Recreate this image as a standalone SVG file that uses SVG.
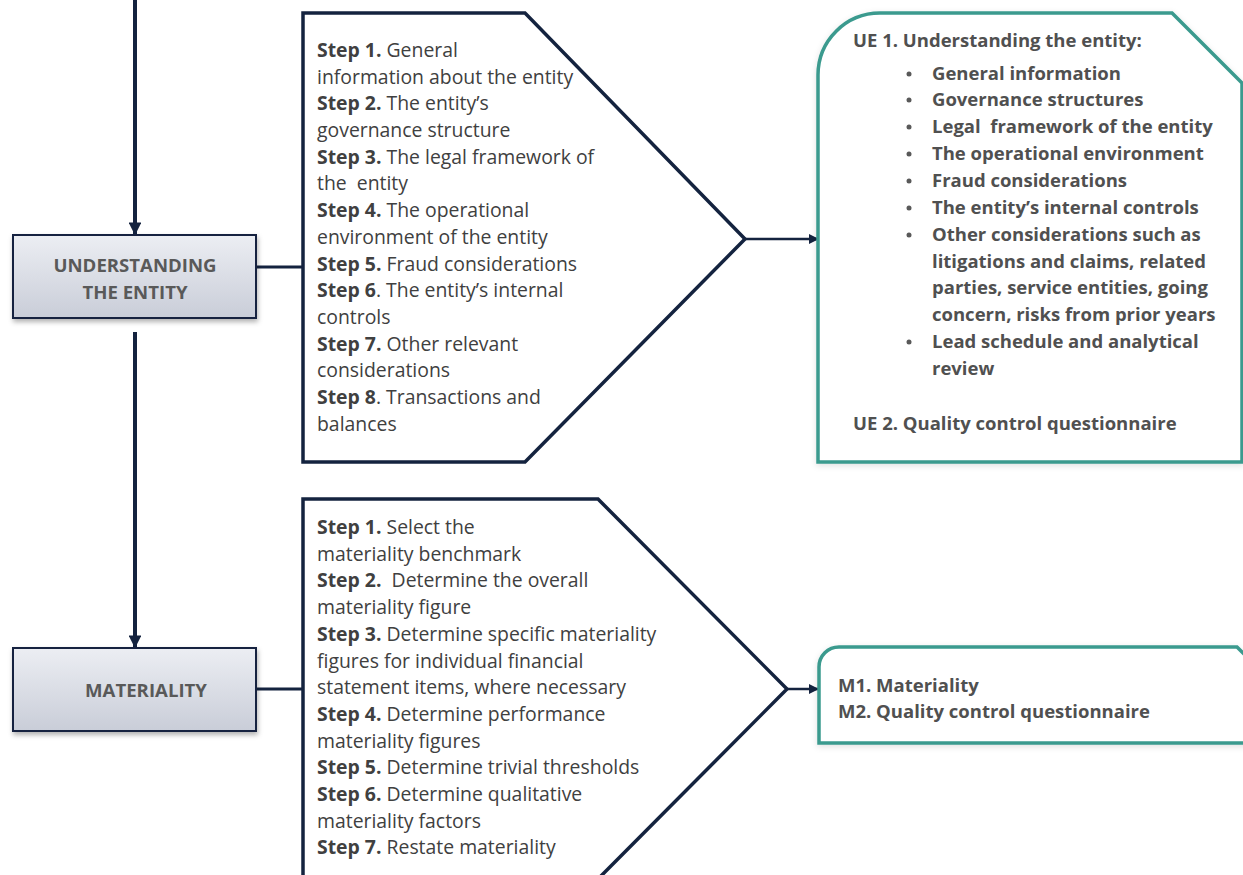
<svg xmlns="http://www.w3.org/2000/svg" width="1243" height="875" viewBox="0 0 1243 875">
<defs>
<linearGradient id="boxg" x1="0" y1="0" x2="0" y2="1">
<stop offset="0" stop-color="#eceef3"/>
<stop offset="1" stop-color="#c9cdd8"/>
</linearGradient>
<filter id="sh" x="-10%" y="-10%" width="130%" height="140%">
<feDropShadow dx="1" dy="3" stdDeviation="2.5" flood-color="#000" flood-opacity="0.3"/>
</filter>
<filter id="sh2" x="-10%" y="-10%" width="130%" height="130%">
<feDropShadow dx="0" dy="2" stdDeviation="3" flood-color="#000" flood-opacity="0.12"/>
</filter>
<marker id="ah" viewBox="0 0 10 10" refX="9" refY="5" markerWidth="3.2" markerHeight="3.2" orient="auto" markerUnits="strokeWidth">
<path d="M0,0 L10,5 L0,10 z" fill="#14233f"/>
</marker>
<marker id="ahs" viewBox="0 0 10 10" refX="9" refY="5" markerWidth="4" markerHeight="4" orient="auto" markerUnits="strokeWidth">
<path d="M0,0 L10,5 L0,10 z" fill="#14233f"/>
</marker>
</defs>
<style>
.box{fill:url(#boxg);stroke:#14233f;stroke-width:2;filter:url(#sh)}
.boxt{font-family:"Open Sans",sans-serif;font-weight:bold;font-size:18.6px;fill:#595959;text-anchor:middle}
.pent{fill:#fff;stroke:#14233f;stroke-width:3.5;stroke-linejoin:miter}
.st{font-family:"Open Sans",sans-serif;font-size:19.4px;fill:#404040}
.st tspan.b{font-weight:bold}
.out{fill:#fff;stroke:#3a9a8e;stroke-width:3.5;filter:url(#sh2)}
.ot{font-family:"Open Sans",sans-serif;font-weight:bold;font-size:18.5px;fill:#505050}
.conn{stroke:#14233f;fill:none}
</style>
<rect width="1243" height="875" fill="#fff"/>
<g id="connectors">
<line class="conn" x1="135" y1="0" x2="135" y2="234" stroke-width="4" marker-end="url(#ah)"/>
<line class="conn" x1="135" y1="332" x2="135" y2="647" stroke-width="4" marker-end="url(#ah)"/>
<line class="conn" x1="256" y1="267" x2="303" y2="267" stroke-width="3"/>
<line class="conn" x1="256" y1="689" x2="303" y2="689" stroke-width="3"/>
<line class="conn" x1="745" y1="239" x2="818" y2="239" stroke-width="2.5" marker-end="url(#ahs)"/>
<line class="conn" x1="787" y1="689" x2="818" y2="689" stroke-width="2.5" marker-end="url(#ahs)"/>
</g>
<g id="node-understanding">
<rect class="box" x="13" y="235" width="243" height="83"/>
<text class="boxt" x="135" y="272">UNDERSTANDING</text>
<text class="boxt" x="135" y="299">THE ENTITY</text>
</g>
<g id="node-materiality">
<rect class="box" x="13" y="648" width="243" height="83"/>
<text class="boxt" x="146" y="697">MATERIALITY</text>
</g>
<g id="node-ue-steps">
<path class="pent" d="M303,13 L525,13 L745,239 L525,462 L303,462 Z"/>
<text class="st" x="317">
<tspan x="317" y="57"><tspan class="b">Step 1.</tspan> General</tspan>
<tspan x="317" y="84">information about the entity</tspan>
<tspan x="317" y="110"><tspan class="b">Step 2.</tspan> The entity’s</tspan>
<tspan x="317" y="137">governance structure</tspan>
<tspan x="317" y="164"><tspan class="b">Step 3.</tspan> The legal framework of</tspan>
<tspan x="317" y="190">the &#160;entity</tspan>
<tspan x="317" y="217"><tspan class="b">Step 4.</tspan> The operational</tspan>
<tspan x="317" y="244">environment of the entity</tspan>
<tspan x="317" y="271"><tspan class="b">Step 5.</tspan> Fraud considerations</tspan>
<tspan x="317" y="297"><tspan class="b">Step 6</tspan>. The entity’s internal</tspan>
<tspan x="317" y="324">controls</tspan>
<tspan x="317" y="351"><tspan class="b">Step 7.</tspan> Other relevant</tspan>
<tspan x="317" y="377">considerations</tspan>
<tspan x="317" y="404"><tspan class="b">Step 8</tspan>. Transactions and</tspan>
<tspan x="317" y="431">balances</tspan>
</text>
</g>
<g id="node-mat-steps">
<path class="pent" d="M303,499 L598,499 L787,689 L598,879 L303,879 Z"/>
<text class="st">
<tspan x="317" y="534"><tspan class="b">Step 1.</tspan> Select the</tspan>
<tspan x="317" y="561">materiality benchmark</tspan>
<tspan x="317" y="587"><tspan class="b">Step 2.</tspan> &#160;Determine the overall</tspan>
<tspan x="317" y="614">materiality figure</tspan>
<tspan x="317" y="641"><tspan class="b">Step 3.</tspan> Determine specific materiality</tspan>
<tspan x="317" y="668">figures for individual financial</tspan>
<tspan x="317" y="694">statement items, where necessary</tspan>
<tspan x="317" y="721"><tspan class="b">Step 4.</tspan> Determine performance</tspan>
<tspan x="317" y="748">materiality figures</tspan>
<tspan x="317" y="774"><tspan class="b">Step 5.</tspan> Determine trivial thresholds</tspan>
<tspan x="317" y="801"><tspan class="b">Step 6.</tspan> Determine qualitative</tspan>
<tspan x="317" y="828">materiality factors</tspan>
<tspan x="317" y="854"><tspan class="b">Step 7.</tspan> Restate materiality</tspan>
</text>
</g>
<g id="node-ue-output">
<path class="out" d="M880,13 L1172,13 L1242,83 L1242,462 L818,462 L818,75 A62,62 0 0 1 880,13 Z"/>
<text class="ot">
<tspan x="853" y="47">UE 1. Understanding the entity:</tspan>
<tspan x="932" y="80">General information</tspan>
<tspan x="932" y="106">Governance structures</tspan>
<tspan x="932" y="133">Legal &#160;framework of the entity</tspan>
<tspan x="932" y="160">The operational environment</tspan>
<tspan x="932" y="187">Fraud considerations</tspan>
<tspan x="932" y="214">The entity’s internal controls</tspan>
<tspan x="932" y="241">Other considerations such as</tspan>
<tspan x="932" y="268">litigations and claims, related</tspan>
<tspan x="932" y="294">parties, service entities, going</tspan>
<tspan x="932" y="321">concern, risks from prior years</tspan>
<tspan x="932" y="348">Lead schedule and analytical</tspan>
<tspan x="932" y="375">review</tspan>
<tspan x="853" y="430">UE 2. Quality control questionnaire</tspan>
</text>
<g fill="#595959">
<circle cx="909" cy="74" r="2.5"/>
<circle cx="909" cy="100" r="2.5"/>
<circle cx="909" cy="127" r="2.5"/>
<circle cx="909" cy="154" r="2.5"/>
<circle cx="909" cy="181" r="2.5"/>
<circle cx="909" cy="208" r="2.5"/>
<circle cx="909" cy="235" r="2.5"/>
<circle cx="909" cy="342" r="2.5"/>
</g>
</g>
<g id="node-m-output">
<path class="out" d="M839,647 L1237,647 L1262,672 L1262,743 L819,743 L819,667 A20,20 0 0 1 839,647 Z"/>
<text class="ot">
<tspan x="838" y="692">M1. Materiality</tspan>
<tspan x="838" y="718">M2. Quality control questionnaire</tspan>
</text>
</g>
</svg>
